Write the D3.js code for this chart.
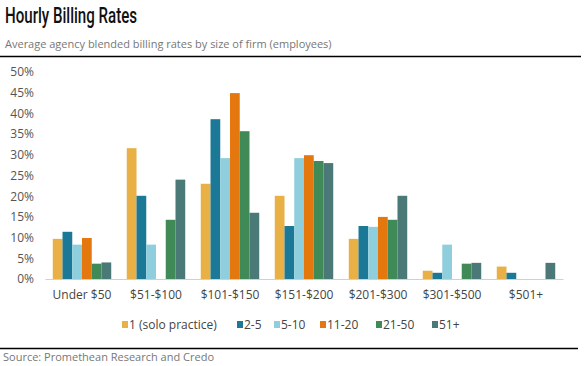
<!DOCTYPE html>
<html>
<head>
<meta charset="utf-8" />
<title>Hourly Billing Rates</title>
<style>
  body { margin: 0; background: #fff; }
  text { font-family: "Open Sans", sans-serif; }
</style>
</head>
<body>
<script src="https://d3js.org/d3.v7.min.js"></script>
<script>

  var categories = ["Under $50", "$51-$100", "$101-$150", "$151-$200", "$201-$300", "$301-$500", "$501+"];
  var seriesNames = ["1 (solo practice)", "2-5", "5-10", "11-20", "21-50", "51+"];
  var seriesColors = ["#e8b045", "#1b7896", "#8fcedd", "#e5770f", "#3f8a56", "#4b7978"];

  // percent of firms, one array per size class, in category order
  var solo   = [9.7, 31.6, 23.0, 20.1, 9.7, 2.0, 3.0];
  var s2to5  = [11.4, 20.1, 38.6, 12.8, 12.8, 1.5, 1.5];
  var s5to10 = [8.3, 8.3, 29.2, 29.2, 12.6, 8.3, 0];
  var s11to20 = [9.9, 0, 44.9, 29.9, 15.0, 0, 0];
  var s21to50 = [3.7, 14.3, 35.7, 28.5, 14.3, 3.7, 0];
  var s51plus = [4.0, 24.0, 16.0, 28.0, 20.1, 3.9, 3.9];
  var yTicks = [0, 5, 10, 15, 20, 25, 30, 35, 40, 45, 50];

  var allSeries = [solo, s2to5, s5to10, s11to20, s21to50, s51plus];

  var width = 588, height = 366;
  var svg = d3.select("body").append("svg")
      .attr("width", width)
      .attr("height", height);

  // title block
  svg.append("text")
     .attr("x", 5)
     .attr("y", 23)
     .attr("textLength", 132)
     .attr("lengthAdjust", "spacingAndGlyphs")
     .style("font-family", "Roboto, sans-serif")
     .style("font-weight", "500")
     .style("font-size", "22px")
     .attr("fill", "#111")
     .text("Hourly Billing Rates");

  svg.append("text")
     .attr("x", 5)
     .attr("y", 48)
     .style("font-size", "11px")
     .attr("fill", "#777")
     .text("Average agency blended billing rates by size of firm (employees)");

  svg.append("line")
     .attr("x1", 0).attr("x2", 581)
     .attr("y1", 56.5).attr("y2", 56.5)
     .style("stroke", "#000")
     .style("stroke-width", 1.5);

  var x0 = d3.scaleBand()
      .domain(categories)
      .range([45, 563])
      .paddingInner(0.21)
      .paddingOuter(0.105);

  var x1 = d3.scaleBand()
      .domain(d3.range(seriesNames.length))
      .range([0, x0.bandwidth()]);

  var y = d3.scaleLinear()
      .domain([0, 50])
      .range([279, 72]);

  // y axis labels only
  var yAxis = d3.axisLeft(y)
      .tickValues(yTicks)
      .tickSize(0)
      .tickPadding(0)
      .tickFormat(d => d + "%");

  var yg = svg.append("g")
      .attr("transform", "translate(34,0)")
      .call(yAxis);
  yg.select(".domain").remove();
  yg.selectAll("text")
    .style("font-family", "'Open Sans', sans-serif")
    .style("font-size", "12px")
    .attr("fill", "#555");

  var groups = svg.append("g")
      .selectAll("g")
      .data(categories)
      .enter()
      .append("g")
      .attr("transform", d => "translate(" + x0(d) + ",0)");

  groups.selectAll("rect")
      .data((c, ci) => allSeries.map((s, si) => ({si: si, v: s[ci]})))
      .enter()
      .append("rect")
      .attr("x", d => x1(d.si))
      .attr("width", x1.bandwidth())
      .attr("y", d => y(d.v))
      .attr("height", d => y(0) - y(d.v))
      .attr("fill", d => seriesColors[d.si]);

  // baseline + category labels
  var xAxis = d3.axisBottom(x0).tickSize(0).tickPadding(11);
  var xg = svg.append("g")
      .attr("transform", "translate(0," + y(0) + ")")
      .call(xAxis);
  xg.select(".domain").attr("stroke", "#d0d0d0");
  xg.selectAll("text")
    .style("font-family", "'Open Sans', sans-serif")
    .style("font-size", "12px")
    .attr("fill", "#444");

  // legend
  var legendX = [122, 237, 274, 320, 376, 432];
  var legend = svg.append("g")
      .selectAll("g")
      .data(seriesNames)
      .enter()
      .append("g")
      .attr("transform", (d, i) => "translate(" + legendX[i] + ",320)");

  legend.append("rect")
      .attr("width", 6)
      .attr("height", 7)
      .attr("y", 1)
      .attr("fill", (d, i) => seriesColors[i]);

  legend.append("text")
      .attr("x", 7)
      .attr("y", 9)
      .style("font-size", "12px")
      .attr("fill", "#444")
      .text(d => d);

  svg.append("line")
     .attr("x1", 0).attr("x2", 578)
     .attr("y1", 348.5).attr("y2", 348.5)
     .style("stroke", "#000")
     .style("stroke-width", 1.5);

  svg.append("text")
     .attr("x", 3)
     .attr("y", 361)
     .style("font-size", "11px")
     .attr("fill", "#777")
     .text("Source: Promethean Research and Credo");

</script>
</body>
</html>
